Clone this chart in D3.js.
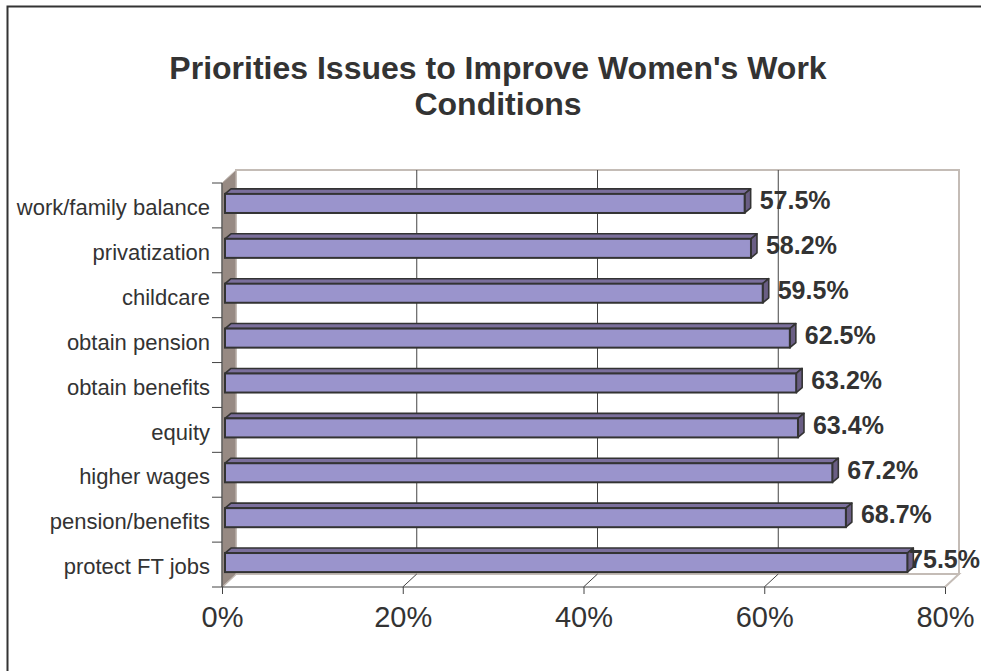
<!DOCTYPE html>
<html><head><meta charset="utf-8">
<script src="https://cdn.jsdelivr.net/npm/d3@7"></script>
<style>body{margin:0;background:#fff}svg{display:block}</style>
</head><body>
<svg id="c" width="981" height="671"></svg>
<script>
const categories = ["work/family balance","privatization","childcare","obtain pension","obtain benefits","equity","higher wages","pension/benefits","protect FT jobs"];
const values = [57.5,58.2,59.5,62.5,63.2,63.4,67.2,68.7,75.5];
const tickValues = [0,20,40,60,80];
const titleLines = ["Priorities Issues to Improve Women's Work","Conditions"];

const W = 981;
const svg = d3.select("#c");
const font = "Liberation Sans, Arial, sans-serif";

// outer frame
svg.append("path").attr("d","M7.5,990 V6.5 H990").attr("fill","none").attr("stroke","#333").attr("stroke-width",2);

// geometry
const front = {x0:222, x1:945, y0:183, y1:587};
const DX = 14, DY = -13;
const x = d3.scaleLinear().domain([0,80]).range([front.x0, front.x1]);
const y = d3.scaleBand().domain(categories).range([front.y0, front.y1]).paddingInner(0.575).paddingOuter(0.2875);

// back wall
svg.append("rect").attr("x",front.x0+DX).attr("y",front.y0+DY).attr("width",front.x1-front.x0).attr("height",front.y1-front.y0)
  .attr("fill","#fff").attr("stroke","#c4bcb6").attr("stroke-width",2);
svg.append("g").selectAll("line").data(tickValues.slice(1,-1)).join("line")
  .attr("x1",d=>x(d)+DX).attr("x2",d=>x(d)+DX).attr("y1",front.y0+DY).attr("y2",front.y1+DY)
  .attr("stroke","#444").attr("stroke-width",1);
// floor
svg.append("path").attr("d",`M${front.x0},${front.y1} L${front.x0+DX},${front.y1+DY} L${front.x1+DX},${front.y1+DY} L${front.x1},${front.y1}`)
  .attr("fill","#fff").attr("stroke","#c4bcb6").attr("stroke-width",2);
svg.append("g").selectAll("line").data(tickValues.slice(1,-1)).join("line")
  .attr("x1",d=>x(d)+DX).attr("x2",d=>x(d)).attr("y1",front.y1+DY).attr("y2",front.y1)
  .attr("stroke","#444").attr("stroke-width",1);
// left wall
svg.append("path").attr("d",`M${front.x0},${front.y0} L${front.x0+DX},${front.y0+DY} L${front.x0+DX},${front.y1+DY} L${front.x0},${front.y1} Z`)
  .attr("fill","#978a83").attr("stroke","#c4bcb6").attr("stroke-width",1);

// axes lines
svg.append("line").attr("x1",front.x0).attr("x2",front.x1).attr("y1",front.y1).attr("y2",front.y1).attr("stroke","#444").attr("stroke-width",1.2);
svg.append("line").attr("x1",front.x0).attr("x2",front.x0).attr("y1",front.y0).attr("y2",front.y1).attr("stroke","#444").attr("stroke-width",1.2);

// x ticks & labels
const xAxis = d3.axisBottom(x).tickValues(tickValues).tickSize(7).tickFormat(d=>d+"%");
const gx = svg.append("g").attr("transform",`translate(0,${front.y1})`).call(xAxis);
gx.select(".domain").remove();
gx.selectAll(".tick line").attr("stroke","#444");
gx.selectAll(".tick text").attr("font-family",font).attr("font-size",29).attr("fill","#333").attr("dy","1.05em");

// y category ticks and labels
const step = y.step();
svg.append("g").selectAll("line").data(d3.range(categories.length+1)).join("line")
  .attr("x1",front.x0-10).attr("x2",front.x0).attr("y1",i=>front.y0+i*step).attr("y2",i=>front.y0+i*step)
  .attr("stroke","#444");
svg.append("g").selectAll("text").data(categories).join("text")
  .attr("x",front.x0-12).attr("y",d=>y(d)+y.bandwidth()/2+2).attr("dy","0.35em")
  .attr("text-anchor","end").attr("font-family",font).attr("font-size",22).attr("fill","#333").text(d=>d);

// bars
const bdx = 6, bdy = -5, shift = 3;
const bars = svg.append("g").selectAll("g").data(categories).join("g");
bars.each(function(d,i){
  const g = d3.select(this);
  const x0 = x(0)+shift, x1 = x(values[i])+shift;
  const y0 = y(d)-2, h = y.bandwidth();
  g.append("path").attr("d",`M${x0},${y0} L${x0+bdx},${y0+bdy} L${x1+bdx},${y0+bdy} L${x1},${y0} Z`)
    .attr("fill","#7b6f9c").attr("stroke","#333").attr("stroke-width",1.6).attr("stroke-linejoin","round");
  g.append("path").attr("d",`M${x1},${y0} L${x1+bdx},${y0+bdy} L${x1+bdx},${y0+h+bdy} L${x1},${y0+h} Z`)
    .attr("fill","#6a5e84").attr("stroke","#333").attr("stroke-width",1.6).attr("stroke-linejoin","round");
  g.append("rect").attr("x",x0).attr("y",y0).attr("width",x1-x0).attr("height",h)
    .attr("fill","#9a94cc").attr("stroke","#333").attr("stroke-width",2);
  const t = g.append("text").attr("x",x1+bdx+9).attr("y",y0+h/2-3).attr("dy","0.35em")
    .attr("font-family",font).attr("font-size",25).attr("font-weight","bold").attr("fill","#333")
    .text(values[i].toFixed(1)+"%");
  const tw = t.node().getComputedTextLength();
  if (x1+bdx+9+tw > W-1) t.attr("x", W-1-tw);
});

// title
svg.append("g").selectAll("text").data(titleLines).join("text")
  .attr("x",498).attr("y",(d,i)=>79+i*36).attr("text-anchor","middle")
  .attr("font-family",font).attr("font-size",32).attr("font-weight","bold").attr("fill","#333").text(d=>d);
</script>
</body></html>
